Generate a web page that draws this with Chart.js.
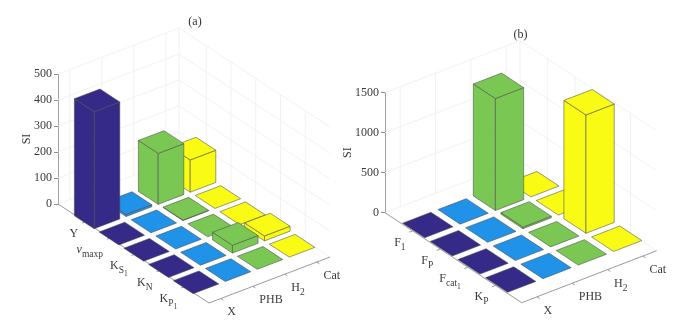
<!DOCTYPE html>
<html><head><meta charset="utf-8">
<style>html,body{margin:0;padding:0;background:#fff;width:681px;height:327px;overflow:hidden}
canvas{position:absolute;left:0;top:0}</style>
<script src="https://cdn.jsdelivr.net/npm/chart.js@4/dist/chart.umd.js"></script>
</head><body>
<canvas id="a" width="681" height="327"></canvas>
<canvas id="b" width="681" height="327"></canvas>
<script>
const columnLabels = ['X', 'PHB', 'H_2', 'Cat'];
const rowLabelsA = ['Y', 'ν_maxp', 'K_S_1', 'K_N', 'K_P_1'];
const rowLabelsB = ['F_1', 'F_P', 'F_cat_1', 'K_P'];
const siA_X = [450, 0, 0, 0, 0];
const siA_PHB = [8, 0, 0, 0, 0];
const siA_H2 = [196, 2, 0, 30, 0];
const siA_Cat = [124, 0, 0, 19, 0];
const siB_X = [0, 0, 0, 0];
const siB_PHB = [0, 0, 0, 0];
const siB_H2 = [1400, 20, 0, 0];
const siB_Cat = [0, 0, 1479, 0];
const columnColors = ['#352A87', '#2092E8', '#7AC753', '#F9FB15'];
const FONT = '"Liberation Serif","Times New Roman",serif';

function drawLabel(ctx, str, x, y, align) {
  const parts = str.split('_');
  const sizes = [12, 9.5, 7.5], drops = [0, 4, 7];
  const fontOf = (i) => ((parts[i] === 'ν' ? 'italic ' : '') + sizes[Math.min(i, 2)] + 'px ' + FONT);
  let w = 0;
  parts.forEach((p, i) => { ctx.font = fontOf(i); w += ctx.measureText(p).width; });
  let cx = align === 'right' ? x - w : x;
  ctx.textAlign = 'left'; ctx.textBaseline = 'alphabetic'; ctx.fillStyle = '#3a3a3a';
  parts.forEach((p, i) => {
    ctx.font = fontOf(i);
    ctx.fillText(p, cx, y + drops[Math.min(i, 2)]);
    cx += ctx.measureText(p).width;
  });
}

const bars3d = {
  id: 'bars3d',
  afterDatasetsDraw(chart, _args, o) {
    const ctx = chart.ctx, xs = chart.scales.x, vs = chart.scales.v, zs = chart.scales.y;
    const P = (u, v, z) => {
      const fu = (u - xs.min) / (xs.max - xs.min), fv = (vs.max - v) / (vs.max - vs.min);
      return [o.front[0] + fu * o.colEdge[0] - fv * o.rowEdge[0],
              o.front[1] + fu * o.colEdge[1] - fv * o.rowEdge[1] + zs.getPixelForValue(z) - zs.getPixelForValue(0)];
    };
    const line = (a, b) => { ctx.beginPath(); ctx.moveTo(a[0], a[1]); ctx.lineTo(b[0], b[1]); ctx.stroke(); };
    const poly = (pts, fill) => {
      ctx.beginPath(); pts.forEach((p, i) => i ? ctx.lineTo(p[0], p[1]) : ctx.moveTo(p[0], p[1])); ctx.closePath();
      ctx.fillStyle = fill; ctx.fill(); ctx.stroke();
    };
    const zMax = zs.max, zTicks = zs.ticks.map(t => t.value);
    // grid on the two back walls
    ctx.save(); ctx.strokeStyle = '#efefef'; ctx.lineWidth = 0.8;
    zTicks.forEach(z => { line(P(xs.min, vs.min, z), P(xs.max, vs.min, z)); line(P(xs.max, vs.min, z), P(xs.max, vs.max, z)); });
    o.cols.forEach((_, i) => { const u = i + 1; line(P(u, vs.min, 0), P(u, vs.min, zMax)); });
    o.rows.forEach((_, i) => { const v = i + 1; line(P(xs.max, v, 0), P(xs.max, v, zMax)); });
    line(P(xs.max, vs.min, 0), P(xs.max, vs.min, zMax));
    // floor axes
    ctx.strokeStyle = '#8f8f8f'; ctx.lineWidth = 0.9;
    line(P(xs.min, vs.min, 0), P(xs.min, vs.max, 0));
    line(P(xs.min, vs.max, 0), P(xs.max, vs.max, 0));
    o.rows.forEach((lab, i) => {
      const a = P(xs.min, i + 1, 0), b = P(xs.min - 0.1, i + 1, 0); line(a, b);
      drawLabel(ctx, lab, a[0] - 7, a[1] + 15, 'right');
    });
    o.cols.forEach((lab, i) => {
      const a = P(i + 1, vs.max, 0), b = P(i + 1, vs.max + 0.1, 0); line(a, b);
      drawLabel(ctx, lab, a[0] + 6.5, a[1] + 17, 'left');
    });
    // bars, back to front
    ctx.strokeStyle = '#4a4a4a'; ctx.lineWidth = 0.55; ctx.lineJoin = 'round';
    const half = 0.4;
    for (let c = chart.data.datasets.length - 1; c >= 0; c--) {
      const ds = chart.data.datasets[c];
      ds.data.forEach(d => {
        const u0 = d.x - half, u1 = d.x + half, v0 = d.row - half, v1 = d.row + half, z = d.y, col = ds.backgroundColor;
        if (z > 0) {
          poly([P(u0, v0, 0), P(u0, v1, 0), P(u0, v1, z), P(u0, v0, z)], col);
          poly([P(u0, v1, 0), P(u1, v1, 0), P(u1, v1, z), P(u0, v1, z)], col);
        }
        poly([P(u0, v0, z), P(u1, v0, z), P(u1, v1, z), P(u0, v1, z)], col);
      });
    }
    // panel title
    ctx.fillStyle = '#333'; ctx.font = '12px ' + FONT; ctx.textAlign = 'center'; ctx.textBaseline = 'alphabetic';
    ctx.fillText(o.title, o.titleAt[0], o.titleAt[1]);
    ctx.restore();
  }
};

function makeChart(id, rows, values, zMax, zStep, xRange, vRange, area, proj, siPad) {
  const datasets = columnLabels.map((lab, c) => ({
    label: lab.replace('_', ''),
    backgroundColor: columnColors[c],
    pointRadius: 0,
    data: rows.map((_, r) => ({ x: c + 1, y: values[c][r], row: r + 1 }))
  }));
  return new Chart(document.getElementById(id), {
    type: 'scatter',
    data: { datasets },
    plugins: [bars3d],
    options: {
      responsive: false, animation: false, devicePixelRatio: 1,
      layout: { padding: { left: area.padLeft, top: area.top, bottom: 327 - area.bottom, right: 0 } },
      scales: {
        x: { type: 'linear', display: false, min: xRange[0], max: xRange[1] },
        v: { type: 'linear', axis: 'x', display: false, min: vRange[0], max: vRange[1] },
        y: {
          type: 'linear', min: 0, max: zMax, position: 'left',
          afterFit(s) { s.width = area.axisWidth; },
          grid: { drawOnChartArea: false, drawTicks: true, tickLength: 4, tickColor: '#8f8f8f' },
          border: { display: true, color: '#a0a0a0', width: 1 },
          ticks: { stepSize: zStep, padding: 2, color: '#3a3a3a', font: { family: FONT, size: 12 }, maxRotation: 0,
                   callback: (value) => String(value) },
          title: { display: true, text: 'SI', color: '#333', font: { family: FONT, size: 12 }, padding: siPad }
        }
      },
      plugins: {
        legend: { display: false }, tooltip: { enabled: false }, title: { display: false },
        bars3d: Object.assign({ rows, cols: columnLabels }, proj)
      }
    }
  });
}

makeChart('a', rowLabelsA, [siA_X, siA_PHB, siA_H2, siA_Cat], 500, 100, [0.63, 4.41], [-0.1, 6],
  { padLeft: 0, axisWidth: 58, top: 74, bottom: 204 },
  { front: [209, 303], rowEdge: [151, 99], colEdge: [121, -46], title: '(a)', titleAt: [195, 25] },
  { top: 20, bottom: 0 });
makeChart('b', rowLabelsB, [siB_X, siB_PHB, siB_H2, siB_Cat], 1500, 500, [0.57, 4.39], [0, 4.95],
  { padLeft: 340, axisWidth: 45, top: 92.7, bottom: 212.7 },
  { front: [521.7, 302.7], rowEdge: [136.7, 90], colEdge: [135, -52], title: '(b)', titleAt: [520.5, 38] },
  { top: 1, bottom: 0 });
</script>
</body></html>
